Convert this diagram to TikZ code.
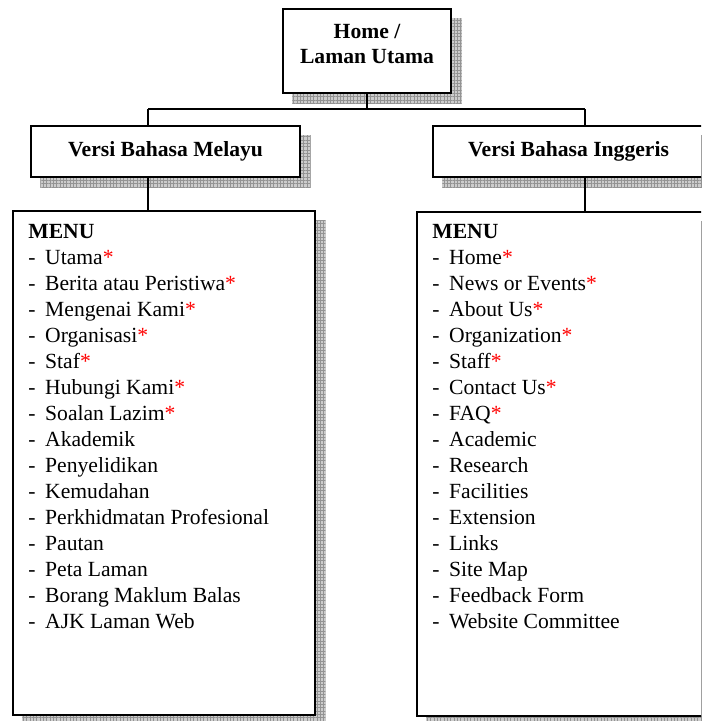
\documentclass[tikz,border=0pt]{standalone}
\usepackage{fontspec}
\setmainfont{Liberation Serif}
\usetikzlibrary{backgrounds,patterns.meta}

\newcommand{\itm}[1]{\makebox[9.6pt][l]{-}#1}
\newcommand{\req}{\textcolor{red}{*}}

\tikzset{
  headbox/.style={draw, line width=0.8pt, fill=white, align=center,
    font=\bfseries\fontsize{12.3}{14.7}\selectfont},
  menubox/.style={draw, line width=0.8pt, fill=white,
    minimum width=6.04cm, minimum height=10.08cm},
  menulist/.style={anchor=north west, inner sep=0pt, align=left,
    font=\fontsize{12.3}{14.8}\selectfont},
  shadow/.style={fill=gray!40, postaction={pattern={Hatch[distance=1.9pt,line width=0.4pt]},
    pattern color=gray!85}},
  link/.style={line width=0.6pt}
}

\begin{document}
\begin{tikzpicture}[x=0.02cm,y=-0.02cm]
    \clip (0,0) rectangle (701,721);
    % boxes
    \node[headbox, minimum width=3.36cm, minimum height=1.68cm] (home) at (367,51)
        {\raisebox{1pt}[0pt][0pt]{\parbox{3cm}{\centering Home /\\Laman Utama}}};
    \node[headbox, minimum width=5.38cm, minimum height=1.02cm] (myhead) at (165.5,151.5) {Versi Bahasa Melayu};
    \node[headbox, minimum width=5.42cm, minimum height=1.02cm] (enhead) at (568.5,151.5) {Versi Bahasa Inggeris};
    \node[menubox] (mymenu) at (164,463) {};
    \node[menubox] (enmenu) at (568,464) {};

    % menu texts
    \node[menulist] (mylist) at (28,224) {\textbf{MENU}\\
        \itm{Utama\req}\\
        \itm{Berita atau Peristiwa\req}\\
        \itm{Mengenai Kami\req}\\
        \itm{Organisasi\req}\\
        \itm{Staf\req}\\
        \itm{Hubungi Kami\req}\\
        \itm{Soalan Lazim\req}\\
        \itm{Akademik}\\
        \itm{Penyelidikan}\\
        \itm{Kemudahan}\\
        \itm{Perkhidmatan Profesional}\\
        \itm{Pautan}\\
        \itm{Peta Laman}\\
        \itm{Borang Maklum Balas}\\
        \itm{AJK Laman Web}};
    \node[menulist] (enlist) at (432,224) {\textbf{MENU}\\
        \itm{Home\req}\\
        \itm{News or Events\req}\\
        \itm{About Us\req}\\
        \itm{Organization\req}\\
        \itm{Staff\req}\\
        \itm{Contact Us\req}\\
        \itm{FAQ\req}\\
        \itm{Academic}\\
        \itm{Research}\\
        \itm{Facilities}\\
        \itm{Extension}\\
        \itm{Links}\\
        \itm{Site Map}\\
        \itm{Feedback Form}\\
        \itm{Website Committee}};

    % shadows
    \begin{scope}[on background layer]
        \foreach \b in {home,myhead,enhead,mymenu,enmenu}
            \fill[shadow] ([shift={(10,10)}]\b.north west) rectangle ([shift={(10,10)}]\b.south east);
    \end{scope}

    % connectors
    \coordinate (jmy) at (148,109);
    \coordinate (jen) at (585,109);
    \draw[link] (home.south) -- (home.south |- jmy);
    \draw[link] (jmy) -- (jen);
    \draw[link] (jmy) -- (jmy |- myhead.north);
    \draw[link] (jen) -- (jen |- enhead.north);
    \draw[link] (jmy |- myhead.south) -- (jmy |- mymenu.north);
    \draw[link] (jen |- enhead.south) -- (jen |- enmenu.north);
\end{tikzpicture}
\end{document}
